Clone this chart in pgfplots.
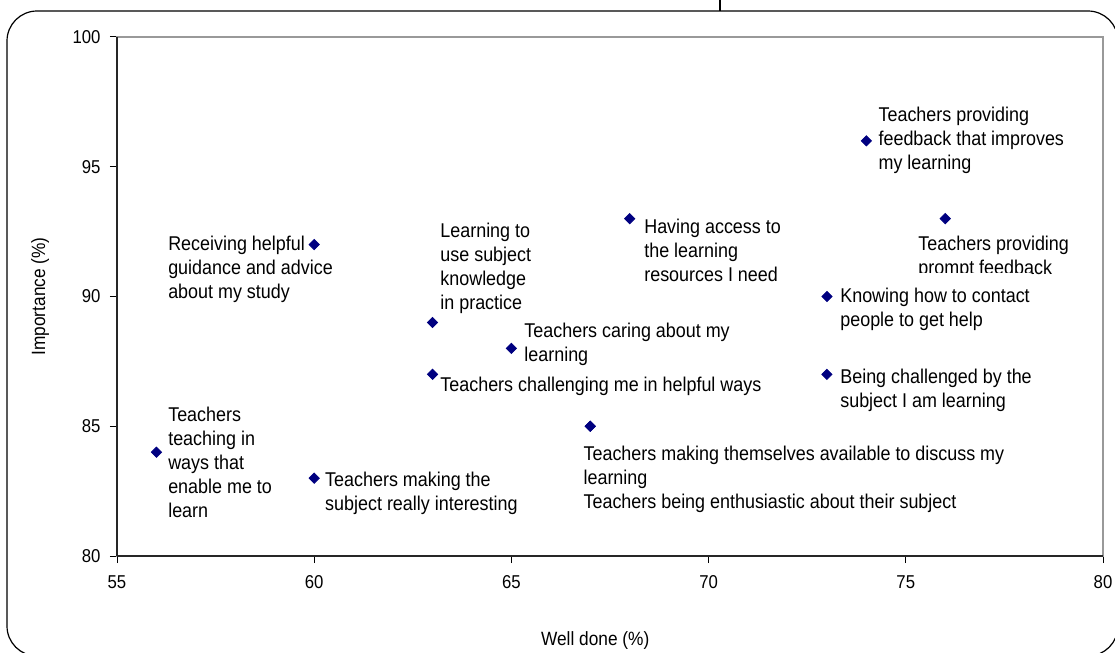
\documentclass[border=0pt]{standalone}
\usepackage{fontspec}
\setmainfont{Liberation Sans}[FakeStretch=0.9]
\usepackage{pgfplots}
\pgfplotsset{compat=1.18}
\definecolor{navyd}{HTML}{000080}
\begin{document}
\begin{tikzpicture}
\useasboundingbox (0,0) rectangle (557.5bp,326.5bp);
\begin{scope}[x=0.5bp,y=0.5bp]
\draw[line width=0.6bp, rounded corners=15bp] (7,-3) rectangle (1118,642);
\draw[line width=0.6bp] (720,653) -- (720,642);
\end{scope}
\begin{axis}[
  at={(58.5bp,48.5bp)}, anchor=south west,
  scale only axis, width=493bp, height=259.5bp,
  xmin=55, xmax=80, ymin=80, ymax=100,
  xtick={55,60,...,80}, ytick={80,85,...,100},
  xtick pos=bottom, ytick pos=left,
  tick align=outside, major tick length=3.5bp,
  tick style={black, line width=0.5bp},
  axis line style={draw=gray!80, line width=0.6bp},
  tick label style={font=\fontsize{9.3bp}{10bp}\selectfont},
  /pgf/number format/assume math mode=true,
  xticklabel style={yshift=-2.8bp},
  yticklabel style={xshift=-1.2bp},
  clip=false,
  every node/.append style={font=\fontsize{9bp}{12.25bp}\selectfont},
]
\draw[black!85, line width=0.6bp] (rel axis cs:0,0) -- (rel axis cs:0,1);
\draw[black!85, line width=0.6bp] (rel axis cs:0,0) -- (rel axis cs:1,0);
\addplot[only marks, mark=square*, mark size=1.8bp, mark options={rotate=45, fill=navyd, draw=navyd}] coordinates {
(56,84) (60,92) (60,83) (63,89) (63,87) (65,88) (67,85) (67,85) (68,93) (74,96) (76,93) (73,90) (73,87)
};
\tikzset{lab/.style={anchor=north west, align=left, inner sep=0pt}}
\node[lab] at (axis cs:56.29,85.74) {Teachers\\teaching in\\ways that\\enable me to\\learn};
\node[lab] at (axis cs:56.29,92.33) {Receiving helpful\\guidance and advice\\about my study};
\node[lab] at (axis cs:60.27,83.24) {Teachers making the\\subject really interesting};
\node[lab] at (axis cs:63.19,92.83) {Learning to\\use subject\\knowledge\\in practice};
\node[lab] at (axis cs:63.19,86.90) {Teachers challenging me in helpful ways};
\node[lab] at (axis cs:65.32,88.98) {Teachers caring about my\\learning};
\node[lab] at (axis cs:66.82,84.24) {Teachers making themselves available to discuss my\\learning\\Teachers being enthusiastic about their subject};
\node[lab] at (axis cs:68.36,92.99) {Having access to\\the learning\\resources I need};
\node[lab] at (axis cs:74.30,97.30) {Teachers providing\\feedback that improves\\my learning};
\node[lab] at (axis cs:75.31,92.33) {Teachers providing\\prompt feedback};
\node[lab] at (axis cs:73.33,87.21) {Being challenged by the\\subject I am learning};
\node[lab, fill=white, inner xsep=0pt, inner ysep=7.5bp, anchor=north west] at ([yshift=7.5bp]axis cs:73.33,90.33) {Knowing how to contact\\people to get help};
\node[font=\fontsize{9.6bp}{10bp}\selectfont] at (rel axis cs:0.485,-0.162) {Well done (\%)};
\node[font=\fontsize{9.6bp}{10bp}\selectfont, rotate=90] at (rel axis cs:-0.078,0.5) {Importance (\%)};
\end{axis}
\end{tikzpicture}
\end{document}
